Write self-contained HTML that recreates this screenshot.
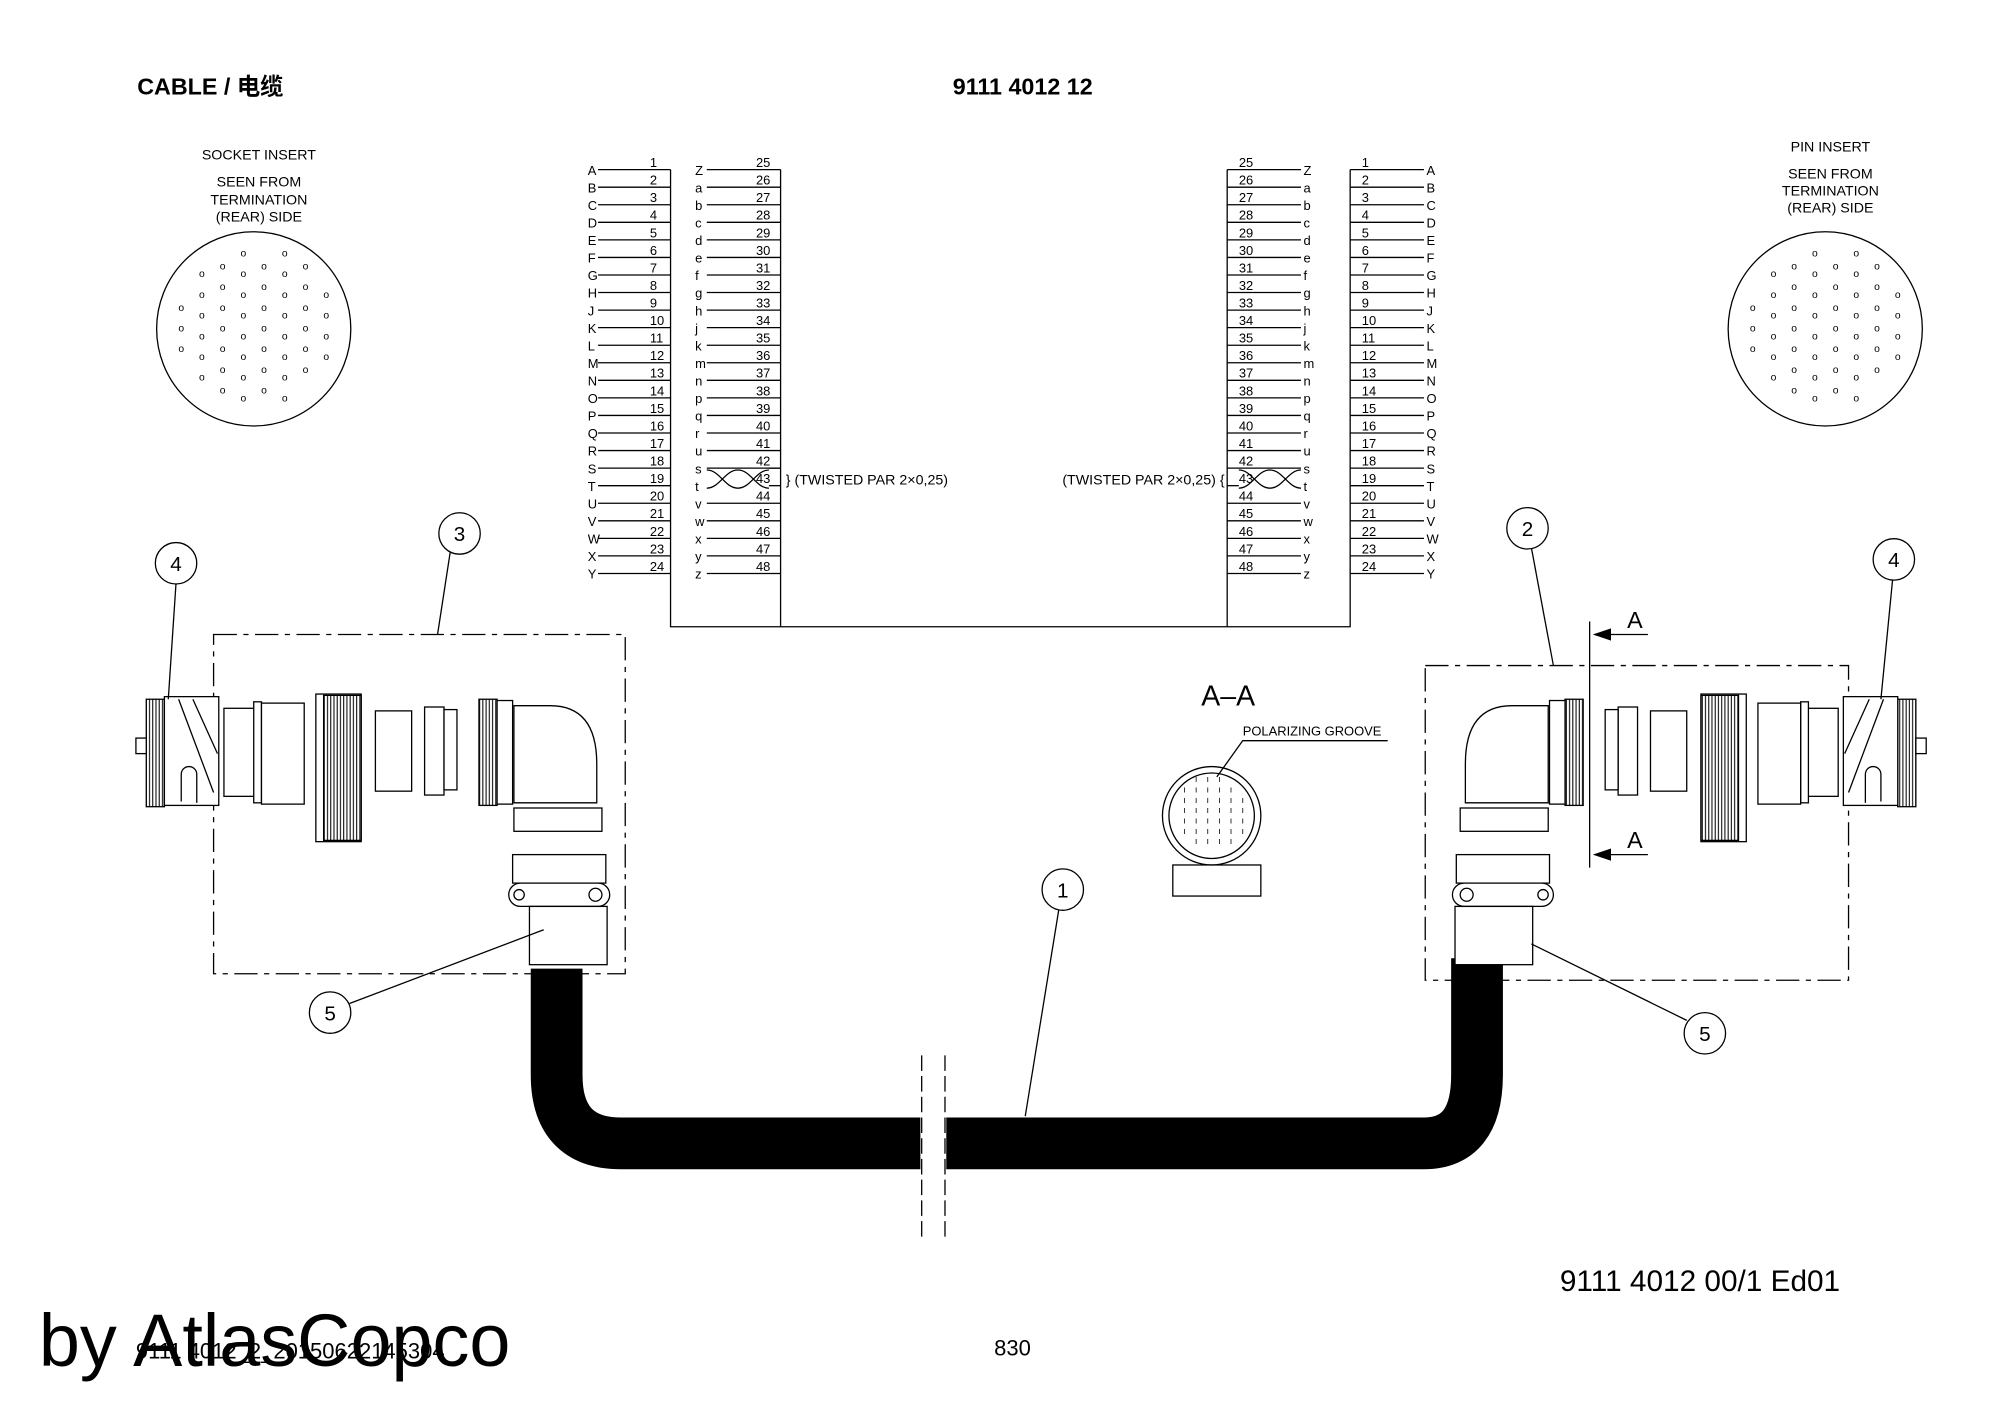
<!DOCTYPE html>
<html><head><meta charset="utf-8"><style>
html,body{margin:0;padding:0;background:#fff;}
svg{display:block;}
.m{font-family:"Liberation Sans Narrow","Liberation Sans",sans-serif;}
</style></head><body>
<svg id="s" width="2000" height="1414" viewBox="0 0 1545 1092" preserveAspectRatio="none" xmlns="http://www.w3.org/2000/svg" font-family="Liberation Sans, sans-serif">
<rect width="1545" height="1092" fill="#fff"/>
<text x="106" y="73" font-size="18" font-weight="bold" font-family="Liberation Sans, Noto Sans CJK SC, sans-serif">CABLE / 电缆</text>
<text x="736" y="73" font-size="18" font-weight="bold">9111 4012 12</text>
<text x="1205" y="997" font-size="23">9111 4012 00/1  Ed01</text>
<text x="105" y="1049" font-size="17">9111 4012_2_20150622145304</text>
<text x="30" y="1055" font-size="57">by AtlasCopco</text>
<text x="768" y="1047" font-size="17">830</text>
<g id="tbl" stroke="#000" stroke-width="1" fill="none"></g>
<g id="txt" font-size="10" class="m" fill="#000"></g>
<g font-size="11" class="m" text-anchor="middle">
<text x="200" y="123">SOCKET INSERT</text><text x="200" y="144">SEEN FROM</text><text x="200" y="158">TERMINATION</text><text x="200" y="171">(REAR) SIDE</text>
<text x="1414" y="117">PIN INSERT</text><text x="1414" y="138">SEEN FROM</text><text x="1414" y="151">TERMINATION</text><text x="1414" y="164">(REAR) SIDE</text>
</g>
<text x="607" y="374" font-size="11" class="m">} (TWISTED PAR 2×0,25)</text>
<text x="946" y="374" font-size="11" class="m" text-anchor="end">(TWISTED PAR 2×0,25) {</text>
<g fill="none" stroke="#000">
<path d="M546,363 C556,363 560,377 570,377 C580,377 584,363 594,363 M546,377 C556,377 560,363 570,363 C580,363 584,377 594,377"/>
<path d="M957,363 C967,363 971,377 981,377 C991,377 995,363 1005,363 M957,377 C967,377 971,363 981,363 C991,363 995,377 1005,377"/>
</g>
<circle cx="196" cy="254" r="75" fill="none" stroke="#000"/>
<circle cx="1410" cy="254" r="75" fill="none" stroke="#000"/>
<g id="dots" font-size="8" class="m" fill="#000" text-anchor="middle"></g>
<path d="M430,748 V830 Q430,883 480,883 H1100 Q1141,883 1141,830 V740" fill="none" stroke="#000" stroke-width="40"/>
<rect x="711" y="850" width="20" height="60" fill="#fff"/>
<path d="M712,815V955M730,815V955" stroke="#000" stroke-dasharray="12,4"/>
<g fill="none" stroke="#000" stroke-dasharray="18,5,4,5">
<rect x="165" y="490" width="318" height="262"/>
<rect x="1101" y="514" width="327" height="243"/>
</g>
<g id="left" fill="#fff" stroke="#000" stroke-width="1">
<rect x="113" y="540" width="14" height="83" fill="url(#hatch)"/>
<rect x="127" y="538" width="42" height="84"/>
<path d="M138,540 L165,612 M149,540 L168,582" fill="none"/>
<path d="M140,619 V598 a6,6 0 0 1 12,0 V620" fill="none"/>
<rect x="105" y="570" width="8" height="12"/>
<rect x="173" y="547" width="28" height="68"/>
<rect x="196" y="542" width="6" height="78"/>
<rect x="202" y="543" width="33" height="78"/>
<rect x="244" y="536" width="35" height="114"/>
<rect x="250" y="537" width="29" height="112" fill="url(#hatch)"/>
<rect x="290" y="549" width="28" height="62"/>
<rect x="328" y="546" width="15" height="68"/>
<rect x="343" y="548" width="10" height="62"/>
<rect x="370" y="540" width="14" height="82" fill="url(#hatch)"/>
<rect x="384" y="541" width="12" height="80"/>
<path d="M397,545 H425 Q461,545 461,590 V620 H397 Z"/>
<rect x="397" y="624" width="68" height="18"/>
<rect x="396" y="660" width="72" height="22"/>
<rect x="393" y="682" width="78" height="18" rx="9"/>
<circle cx="401" cy="691" r="4"/><circle cx="460" cy="691" r="5"/>
<rect x="409" y="700" width="60" height="45"/>
</g>
<use href="#left" transform="translate(1593,0) scale(-1,1)"/>
<defs><pattern id="hatch" width="2.5" height="10" patternUnits="userSpaceOnUse"><rect width="2.5" height="10" fill="#fff"/><line x1="0.5" y1="0" x2="0.5" y2="10" stroke="#000" stroke-width="0.8"/></pattern></defs>
<g stroke="#000" fill="none">
<path d="M1228,480 V670"/>
<path d="M1232,490 H1273 M1232,660 H1273"/>
<path d="M1232,490 l12,-4 v8z M1232,660 l12,-4 v8z" fill="#000"/>
<circle cx="936" cy="630" r="38"/><circle cx="936" cy="630" r="33"/>
<rect x="906" y="668" width="68" height="24"/>
<path d="M940,600 L960,572 H1072"/>
</g>
<g class="m" font-size="18"><text x="1257" y="485">A</text><text x="1257" y="655">A</text><text x="928" y="545" font-size="22">A–A</text></g>
<text x="960" y="568" font-size="10" class="m">POLARIZING GROOVE</text>
<g id="aa" font-size="7" class="m" text-anchor="middle"></g>
<g stroke="#000" fill="none">
<line x1="136" y1="450" x2="130" y2="540"/><line x1="348" y1="425" x2="338" y2="490"/>
<line x1="1183" y1="423" x2="1200" y2="514"/><line x1="1462" y1="448" x2="1453" y2="540"/>
<line x1="270" y1="775" x2="420" y2="718"/><line x1="1303" y1="788" x2="1183" y2="729"/>
<line x1="818" y1="702" x2="792" y2="862"/>
</g>
<g id="lbl" font-size="16" text-anchor="middle"></g>
<script>
var NS="http://www.w3.org/2000/svg";
function el(p,t,a,tx){var e=document.createElementNS(NS,t);for(var k in a)e.setAttribute(k,a[k]);if(tx!=null)e.textContent=tx;document.getElementById(p).appendChild(e);}
var L="ABCDEFGHJKLMNOPQRSTUVWXY".split("");
var R=["Z","a","b","c","d","e","f","g","h","j","k","m","n","p","q","r","u","s","t","v","w","x","y","z"];
for(var i=0;i<24;i++){var y=131+i*13.56;
if(i!=18){el("tbl","line",{x1:546,y1:y,x2:603,y2:y});el("tbl","line",{x1:948,y1:y,x2:1005,y2:y});}
else{el("tbl","line",{x1:594,y1:y-13.56,x2:603,y2:y-13.56});el("tbl","line",{x1:594,y1:y,x2:603,y2:y});el("tbl","line",{x1:948,y1:y,x2:957,y2:y});}
el("tbl","line",{x1:462,y1:y,x2:518,y2:y});el("tbl","line",{x1:1043,y1:y,x2:1100,y2:y});
el("txt","text",{x:454,y:y+4},L[i]);el("txt","text",{x:1102,y:y+4},L[i]);
el("txt","text",{x:537,y:y+4},R[i]);el("txt","text",{x:1007,y:y+4},R[i]);
el("txt","text",{x:502,y:y-2},String(i+1));el("txt","text",{x:584,y:y-2},String(i+25));
el("txt","text",{x:957,y:y-2},String(i+25));el("txt","text",{x:1052,y:y-2},String(i+1));}
el("tbl","path",{d:"M518,131V484H1043V131M603,131V484M948,131V484"});
var cs=[[196,254],[1410,254]];
cs.forEach(function(c){for(var r=0;r<8;r++){for(var k=0;k<8;k++){var x=c[0]-56+k*16,y=c[1]-62+r*16+((k%2)*6);if(Math.hypot(x-c[0],y-c[1])<62)el("dots","text",{x:x,y:y},"o");}}});
for(var r=0;r<8;r++)for(var k=0;k<8;k++){var x=906+k*9,y=604+r*8;if(Math.hypot(x-936,y-630)<30)el("aa","text",{x:x,y:y},"ı");}
[[136,435,"4"],[355,412,"3"],[255,782,"5"],[1180,408,"2"],[1463,432,"4"],[1317,798,"5"],[821,687,"1"]].forEach(function(a){el("lbl","circle",{cx:a[0],cy:a[1],r:16,fill:"#fff",stroke:"#000"});el("lbl","text",{x:a[0],y:a[1]+6},a[2]);});
</script>
</svg>
</body></html>
